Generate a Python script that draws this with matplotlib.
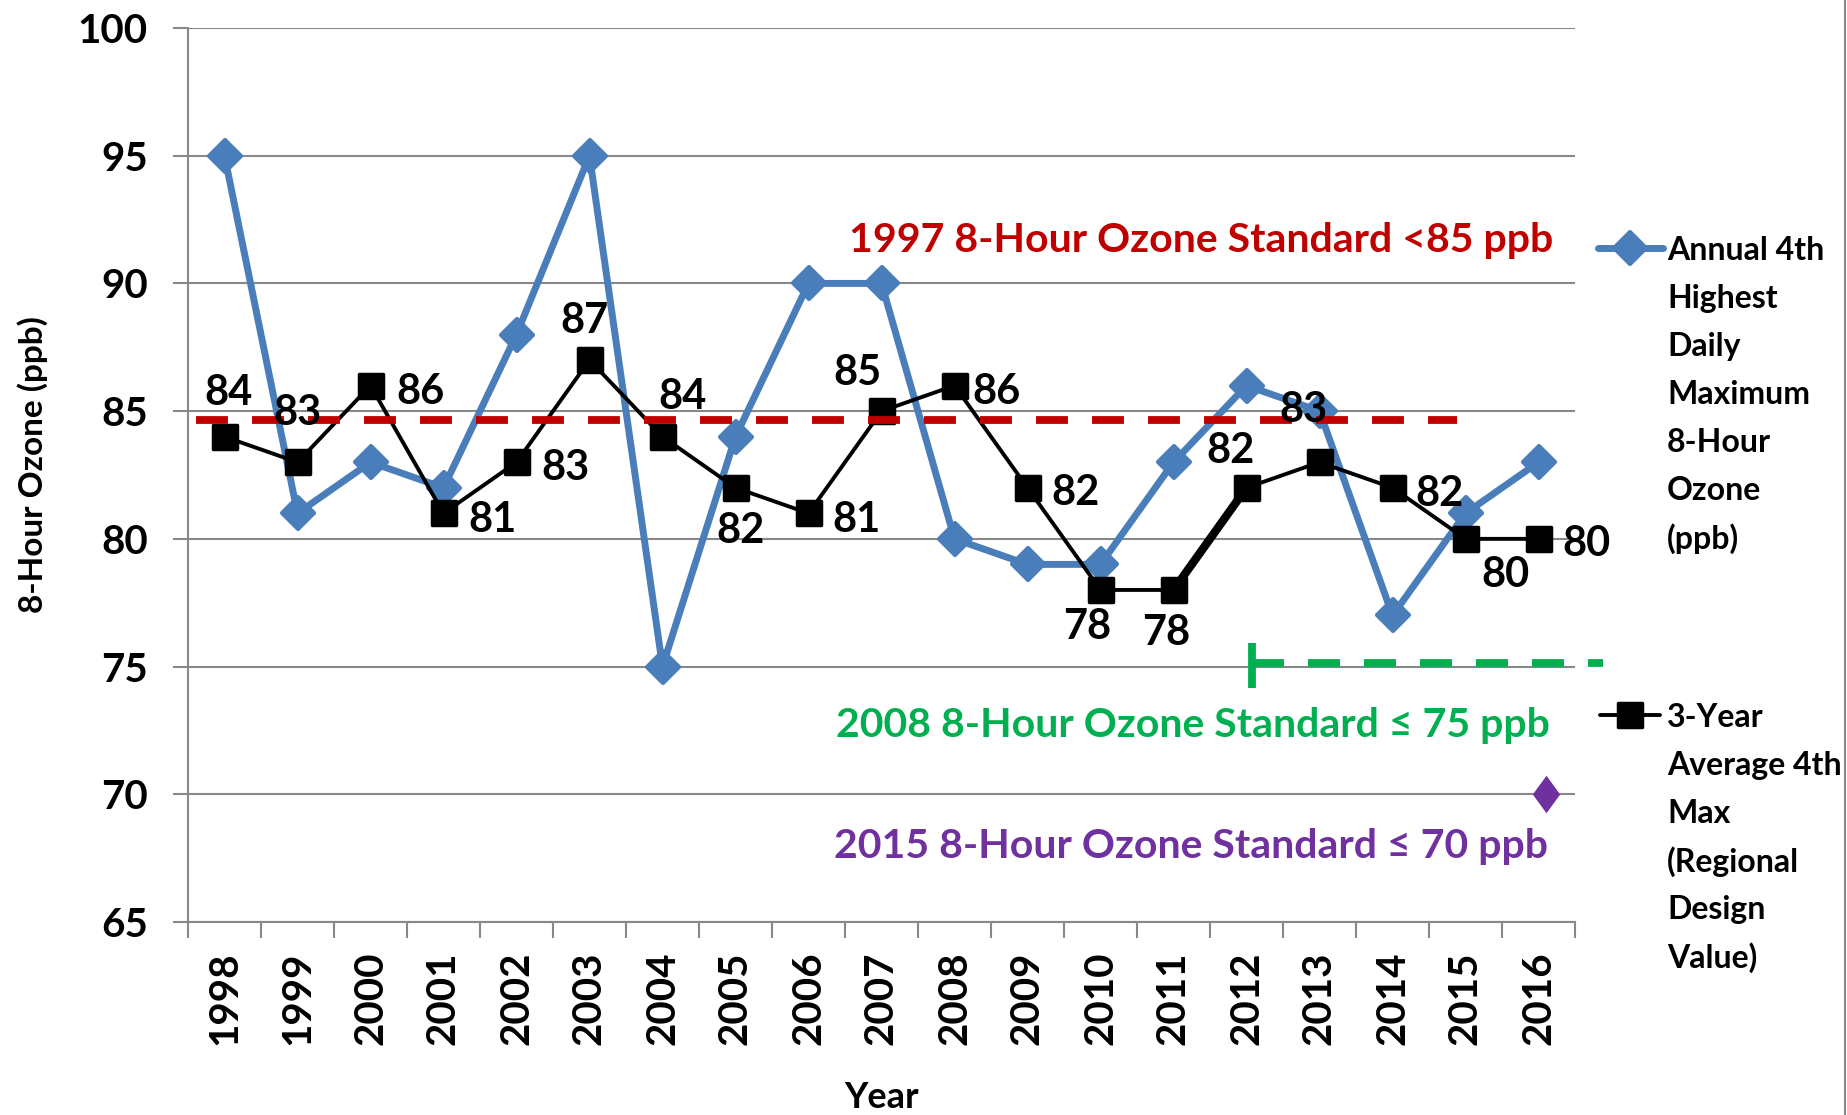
import numpy as np
import matplotlib
matplotlib.use("Agg")
import matplotlib.pyplot as plt
from matplotlib.lines import Line2D
from matplotlib.markers import MarkerStyle
from matplotlib.path import Path

# ---------------- data ----------------
years = ['1998', '1999', '2000', '2001', '2002', '2003', '2004', '2005', '2006', '2007',
         '2008', '2009', '2010', '2011', '2012', '2013', '2014', '2015', '2016']
annual_4th_high = [95, 81, 83, 82, 88, 95, 75, 84, 90, 90, 80, 79, 79, 83, 86, 85, 77, 81, 83]
design_value = [84, 83, 86, 81, 83, 87, 84, 82, 81, 85, 86, 82, 78, 78, 82, 83, 82, 80, 80]
y_ticks = [65, 70, 75, 80, 85, 90, 95, 100]
std_1997 = 84.65
std_2008 = 75.15
std_2015 = 70
std_1997_text = '1997 8-Hour Ozone Standard <85 ppb'
std_2008_text = '2008 8-Hour Ozone Standard \u2264 75 ppb'
std_2015_text = '2015 8-Hour Ozone Standard \u2264 70 ppb'
legend_annual = ['Annual 4th', 'Highest', 'Daily', 'Maximum', '8-Hour', 'Ozone', '(ppb)']
legend_design = ['3-Year', 'Average 4th', 'Max', '(Regional', 'Design', 'Value)']

# ---------------- style ----------------
BLUE = '#4A7EBB'
RED = '#C00000'
GREEN = '#00B050'
PURPLE = '#7030A0'
GRID = '#888888'

plt.rcParams['font.family'] = ['Lato', 'DejaVu Sans']
plt.rcParams['font.weight'] = 'bold'

W, H = 1847, 1115
fig = plt.figure(figsize=(W / 100, H / 100), dpi=100)
fx = lambda px: px / W
fy = lambda py: 1 - py / H

ax = fig.add_axes([fx(188), fy(922), (1575 - 188) / W, (922 - 28) / H])
x = np.arange(len(years))
ax.set_xlim(-0.5, len(years) - 0.5)
ax.set_ylim(65, 100)

# grid / spines / ticks
ax.set_yticks(y_ticks)
ax.grid(axis='y', color=GRID, lw=1.5)
ax.set_axisbelow(True)
for s in ['top', 'right']:
    ax.spines[s].set_visible(False)
for s in ['left', 'bottom']:
    ax.spines[s].set_color(GRID)
    ax.spines[s].set_linewidth(1.5)
ax.tick_params(axis='y', direction='out', length=11, width=1.5, color=GRID,
               labelsize=29, pad=18)
ax.set_xticks(x)
ax.set_xticklabels(years, rotation=90, fontsize=29, fontweight='bold')
ax.tick_params(axis='x', which='major', length=0, pad=21)
ax.set_xticks(np.arange(-0.5, len(years)), minor=True)
ax.tick_params(axis='x', which='minor', direction='out', length=11.5, width=1.5, color=GRID)
for lab in ax.get_yticklabels():
    lab.set_fontweight('bold')

ax.set_ylabel('8-Hour Ozone (ppb)', fontsize=24, fontweight='bold', va='center')
ax.yaxis.set_label_coords(-0.1117, 0.512)
ax.set_xlabel('Year', fontsize=26, fontweight='bold', va='center_baseline')
ax.xaxis.set_label_coords(0.5, -0.1935)

# series
ax.plot(x, annual_4th_high, color=BLUE, lw=5, marker=MarkerStyle('D', joinstyle='round'),
        ms=16.5, mew=3, mec=BLUE, mfc=BLUE, solid_joinstyle='round', zorder=3)
ax.plot(x[13:15], design_value[13:15], color='black', lw=6, zorder=3.5)
ax.plot(x, design_value, color='black', lw=2.8, marker=MarkerStyle('s', joinstyle='round'),
        ms=17, mew=2.5, mec='black', mfc='black', zorder=4)

# standards
ax.plot([-0.39, 16.88], [std_1997, std_1997], color=RED, lw=5.6, dashes=(4.11, 3.09),
        dash_capstyle='butt', zorder=5)
ax.plot([14.08, 18.88], [std_2008, std_2008], color=GREEN, lw=5.6, dashes=(4.11, 3.09),
        dash_capstyle='butt', zorder=5, clip_on=False)
ax.plot([14.08, 14.08], [std_2008 + 0.77, std_2008 - 0.98], color=GREEN, lw=5.6,
        solid_capstyle='butt', zorder=5)
tall_diamond = Path([(0, 1), (0.73, 0), (0, -1), (-0.73, 0), (0, 1)],
                    [Path.MOVETO, Path.LINETO, Path.LINETO, Path.LINETO, Path.CLOSEPOLY])
ax.plot([18.1], [std_2015], marker=tall_diamond, ms=27, color=PURPLE, mew=0,
        zorder=6, clip_on=False)

ax.text(18.2, 91.23, std_1997_text, color=RED, fontsize=29.5, fontweight='bold',
        ha='right', va='baseline', zorder=7)
ax.text(18.16, 72.24, std_2008_text, color=GREEN, fontsize=29.5, fontweight='bold',
        ha='right', va='baseline', zorder=7)
ax.text(18.13, 67.5, std_2015_text, color=PURPLE, fontsize=29.5, fontweight='bold',
        ha='right', va='baseline', zorder=7)

# data labels for the design value series (offsets in pixels: right, down)
label_offsets = [(4, -47), (0, -53), (50, 3), (49, 3), (49, 2), (-5, -43), (20, -43),
                 (5, 40), (48, 3), (-24, -42), (42, 3), (48, 2), (-13, 34), (-7, 40),
                 (-16, -40), (-16, -56), (47, 3), (40, 33), (48, 2)]
for xi, v, (dx, dy) in zip(x, design_value, label_offsets):
    ax.annotate(f'{v}', (xi, v), xytext=(dx * 0.72, -dy * 0.72), textcoords='offset points',
                ha='center', va='center_baseline', fontsize=30, fontweight='bold',
                color='black', zorder=8)

# legend (drawn manually to match layout)
fig.add_artist(Line2D([fx(1598), fx(1630), fx(1663)], [fy(248)] * 3, color=BLUE, lw=5,
                      marker=MarkerStyle('D', joinstyle='round'), markevery=[1], ms=16.5,
                      mew=3, mec=BLUE, mfc=BLUE, solid_capstyle='round'))
for k, line in enumerate(legend_annual):
    fig.text(fx(1667), fy(248 + 48 * k), line, fontsize=23, fontweight='bold',
             va='center_baseline', ha='left')
fig.add_artist(Line2D([fx(1600), fx(1630), fx(1660)], [fy(715)] * 3, color='black', lw=2.8,
                      marker=MarkerStyle('s', joinstyle='round'), markevery=[1], ms=17,
                      mew=2.5, mec='black', mfc='black', solid_capstyle='round'))
for k, line in enumerate(legend_design):
    fig.text(fx(1667), fy(715 + 48 * k), line, fontsize=23, fontweight='bold',
             va='center_baseline', ha='left')

# right-hand border of the chart area
fig.add_artist(Line2D([fx(1845), fx(1845)], [0, 1], color=GRID, lw=1.5))

fig.savefig('out.png', dpi=100, facecolor='white')
